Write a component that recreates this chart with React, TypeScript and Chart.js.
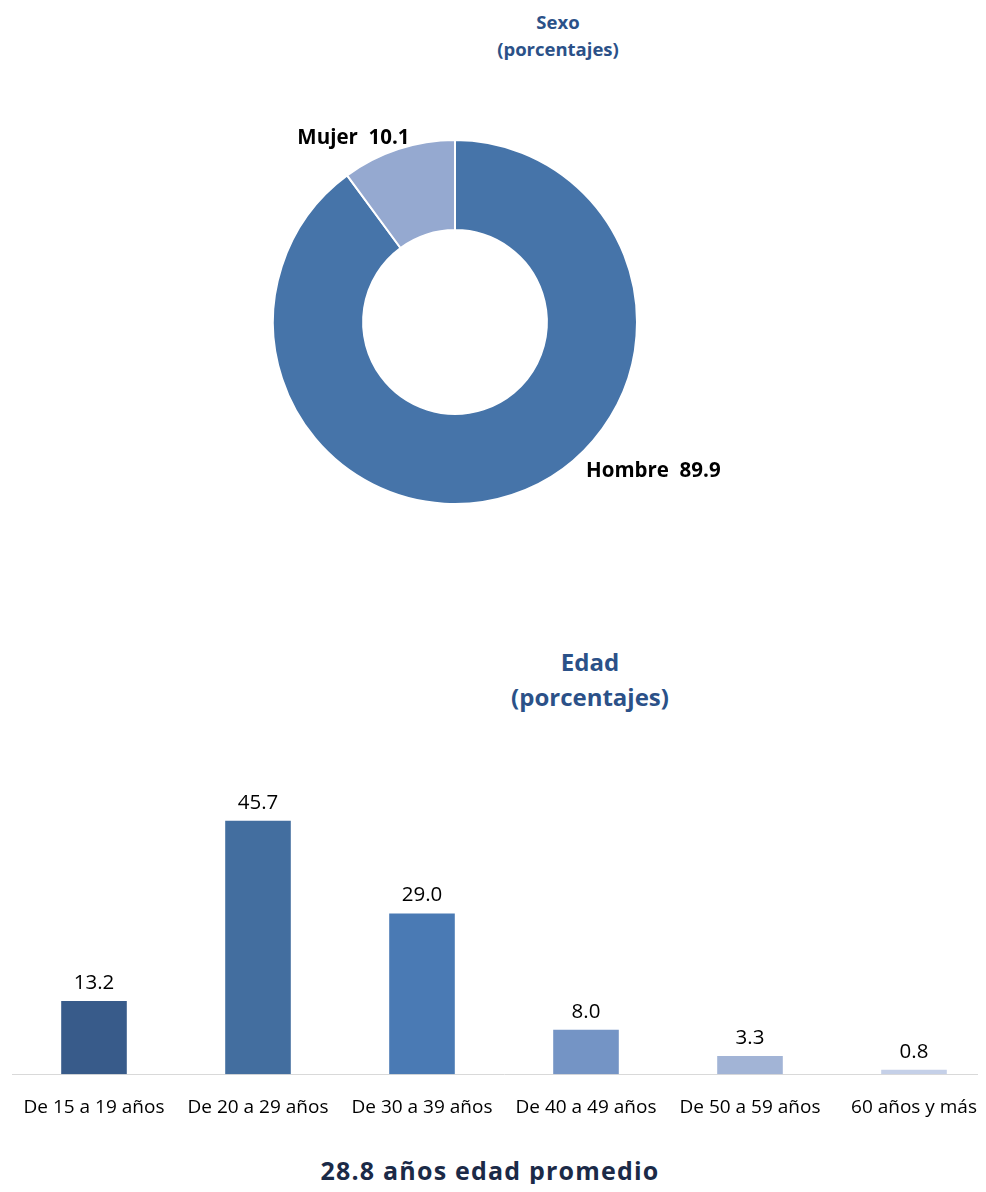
import React, { useEffect, useRef } from "react";
import { Chart, registerables } from "chart.js";

Chart.register(...registerables);

// ---- Data ----
const sexoLabels = ["Hombre", "Mujer"];
const sexoValues = [89.9, 10.1];
const sexoColors = ["#4674A9", "#95A9D0"];

const edadLabels = [
  "De 15 a 19 años",
  "De 20 a 29 años",
  "De 30 a 39 años",
  "De 40 a 49 años",
  "De 50 a 59 años",
  "60 años y más",
];
const edadValues = [13.2, 45.7, 29.0, 8.0, 3.3, 0.8];
const edadColors = ["#385B8A", "#436E9F", "#4A7AB4", "#7494C5", "#A2B4D6", "#C5D0E8"];

const FONT = "'Open Sans', 'DejaVu Sans', sans-serif";
const TITLE_BLUE = "#2B5188";

// label placement factors (relative to doughnut centre / outer radius)
const donutLabelStyle = [
  { align: "left" as CanvasTextAlign, fx: 0.72, fy: 0.82 },
  { align: "right" as CanvasTextAlign, fx: -0.25, fy: -1.01 },
];

const donutLabelPlugin = {
  id: "donutLabels",
  afterDatasetsDraw(chart: any) {
    const ctx = chart.ctx;
    const meta = chart.getDatasetMeta(0);
    ctx.save();
    ctx.font = `bold 20.5px ${FONT}`;
    ctx.fillStyle = "#000";
    ctx.textBaseline = "middle";
    meta.data.forEach((arc: any, i: number) => {
      const { x, y, outerRadius } = arc.getProps(["x", "y", "outerRadius"], true);
      const st = donutLabelStyle[i];
      ctx.textAlign = st.align;
      const txt = `${chart.data.labels[i]}  ${Number(chart.data.datasets[0].data[i]).toFixed(1)}`;
      ctx.fillText(txt, x + st.fx * outerRadius, y + st.fy * outerRadius);
    });
    ctx.restore();
  },
};

const barValuePlugin = {
  id: "barValues",
  afterDatasetsDraw(chart: any) {
    const ctx = chart.ctx;
    const meta = chart.getDatasetMeta(0);
    ctx.save();
    ctx.font = `20.5px ${FONT}`;
    ctx.fillStyle = "#000";
    ctx.textAlign = "center";
    ctx.textBaseline = "alphabetic";
    meta.data.forEach((bar: any, i: number) => {
      const v = Number(chart.data.datasets[0].data[i]);
      ctx.fillText(v.toFixed(1), bar.x, bar.y - 12);
    });
    ctx.restore();
  },
};

// page coordinates -> wrapper coordinates (body margin 8)
const P = (v: number) => v - 8;

export default function App() {
  const donutRef = useRef<HTMLCanvasElement>(null);
  const barRef = useRef<HTMLCanvasElement>(null);

  useEffect(() => {
    const donut = new Chart(donutRef.current!, {
      type: "doughnut",
      data: {
        labels: sexoLabels,
        datasets: [
          {
            data: sexoValues,
            backgroundColor: sexoColors,
            borderColor: "#FFFFFF",
            borderWidth: 2,
          },
        ],
      },
      options: {
        animation: false,
        responsive: false,
        maintainAspectRatio: false,
        radius: 182,
        cutout: "50.5%",
        layout: { padding: 0 },
        plugins: {
          legend: { display: false },
          tooltip: { enabled: false },
        },
      } as any,
      plugins: [donutLabelPlugin],
    });

    const bar = new Chart(barRef.current!, {
      type: "bar",
      data: {
        labels: edadLabels,
        datasets: [
          {
            data: edadValues,
            backgroundColor: edadColors,
            barPercentage: 0.4,
            categoryPercentage: 1,
          },
        ],
      },
      options: {
        animation: false,
        responsive: false,
        maintainAspectRatio: false,
        layout: { padding: { top: 37, left: 0, right: 0, bottom: 0 } },
        plugins: {
          legend: { display: false },
          tooltip: { enabled: false },
        },
        scales: {
          x: {
            grid: { display: false, drawTicks: false },
            border: { display: true, color: "#D9D9D9", width: 1 },
            ticks: {
              color: "#000",
              font: { family: FONT, size: 19 },
              padding: 22,
              maxRotation: 0,
              autoSkip: false,
            },
            afterFit: (scale: any) => {
              scale.paddingLeft = 0;
              scale.paddingRight = 0;
            },
          },
          y: { display: false, min: 0, max: 50 },
        },
      } as any,
      plugins: [barValuePlugin],
    });

    return () => {
      donut.destroy();
      bar.destroy();
    };
  }, []);

  return (
    <div
      style={{
        position: "relative",
        width: 978,
        height: 1176,
        overflow: "hidden",
        background: "#fff",
        fontFamily: FONT,
      }}
    >
      <div
        style={{
          position: "absolute",
          left: P(358),
          width: 400,
          top: P(8),
          textAlign: "center",
          color: TITLE_BLUE,
          fontWeight: 700,
          fontSize: 18.5,
          lineHeight: "27px",
        }}
      >
        Sexo
        <br />
        (porcentajes)
      </div>
      <canvas
        ref={donutRef}
        width={600}
        height={420}
        style={{ position: "absolute", left: P(155), top: P(112), display: "block" }}
      />
      <div
        style={{
          position: "absolute",
          left: P(390),
          width: 400,
          top: P(644),
          textAlign: "center",
          color: TITLE_BLUE,
          fontWeight: 700,
          fontSize: 24,
          lineHeight: "35px",
        }}
      >
        Edad
        <br />
        (porcentajes)
      </div>
      <canvas
        ref={barRef}
        width={984}
        height={381}
        style={{ position: "absolute", left: P(12), top: P(760), display: "block" }}
      />
      <div
        style={{
          position: "absolute",
          left: P(190),
          width: 600,
          top: P(1153),
          textAlign: "center",
          color: "#1B2A47",
          fontWeight: 700,
          fontSize: 25,
          letterSpacing: 1.2,
          lineHeight: "34px",
        }}
      >
        28.8 años edad promedio
      </div>
    </div>
  );
}
